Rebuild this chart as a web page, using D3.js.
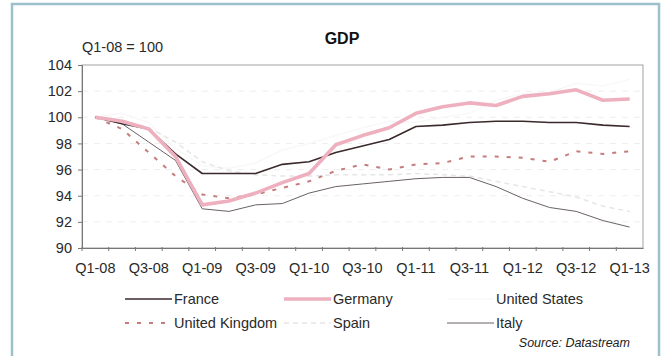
<!DOCTYPE html>
<html>
<head>
<meta charset="utf-8">
<script src="https://cdn.jsdelivr.net/npm/d3@7"></script>
<style>
  body { margin: 0; background: #fff; }
  svg { display: block; font-family: Arial, "Liberation Sans", sans-serif; }
  .tick text { font-size: 14.5px; fill: #2a2a2a; }
  .legend-label { font-size: 14.5px; fill: #2a2a2a; }
</style>
</head>
<body>
<svg id="chart" width="667" height="356"></svg>
<script>
const quarters = ['Q1-08','Q2-08','Q3-08','Q4-08','Q1-09','Q2-09','Q3-09','Q4-09','Q1-10','Q2-10','Q3-10',
  'Q4-10','Q1-11','Q2-11','Q3-11','Q4-11','Q1-12','Q2-12','Q3-12','Q4-12','Q1-13'];
const tickLabels = ['Q1-08','Q3-08','Q1-09','Q3-09','Q1-10','Q3-10','Q1-11','Q3-11','Q1-12','Q3-12','Q1-13'];
const yTicks = [90, 92, 94, 96, 98, 100, 102, 104];
const gridValues = [92, 94, 96, 98, 100, 102];

const france = [100, 99.5, 99.1, 97.2, 95.7, 95.7, 95.7, 96.4, 96.6, 97.3, 97.8, 98.3, 99.3, 99.4, 99.6, 99.7, 99.7, 99.6, 99.6, 99.4, 99.3];
const germany = [100, 99.7, 99.1, 97.0, 93.3, 93.6, 94.2, 95.0, 95.7, 97.9, 98.6, 99.2, 100.3, 100.8, 101.1, 100.9, 101.6, 101.8, 102.1, 101.3, 101.4];
const unitedStates = [100, 100.3, 99.6, 97.6, 96.3, 96.1, 96.5, 97.5, 98.0, 98.6, 99.2, 99.7, 99.6, 100.0, 100.3, 101.3, 101.8, 101.9, 102.6, 102.4, 102.9];
const unitedKingdom = [100, 99.1, 97.3, 95.5, 94.1, 93.8, 94.1, 94.6, 95.1, 95.9, 96.4, 96.0, 96.4, 96.5, 97.0, 97.0, 96.9, 96.6, 97.4, 97.2, 97.4];
const spain = [100, 99.8, 99.2, 98.1, 96.6, 95.9, 95.6, 95.5, 95.5, 95.6, 95.6, 95.6, 95.7, 95.6, 95.5, 95.1, 94.7, 94.3, 93.9, 93.2, 92.8];
const italy = [100, 99.5, 98.1, 96.7, 93.0, 92.8, 93.3, 93.4, 94.2, 94.7, 94.9, 95.1, 95.3, 95.4, 95.4, 94.7, 93.8, 93.1, 92.8, 92.1, 91.6];

const series = [
  { name: 'France', values: france, color: '#3b2a2c', width: 1.6, dash: null, lx: 125, ly: 299 },
  { name: 'Germany', values: germany, color: '#eeb0bf', width: 3.6, dash: null, lx: 284, ly: 299 },
  { name: 'United States', values: unitedStates, color: '#f8f8f8', width: 1.5, dash: null, lx: 447, ly: 299 },
  { name: 'United Kingdom', values: unitedKingdom, color: '#c47c7c', width: 2, dash: '4,8', lx: 125, ly: 323 },
  { name: 'Spain', values: spain, color: '#e6e6e6', width: 1.5, dash: '5,4', lx: 284, ly: 323 },
  { name: 'Italy', values: italy, color: '#6a6264', width: 1, dash: null, lx: 447, ly: 323 }
];

const svg = d3.select('#chart');

// outer frame
svg.append('rect')
  .attr('x', 12).attr('y', 4)
  .attr('width', 647).attr('height', 362)
  .attr('fill', 'none')
  .attr('stroke', '#9cc1cd')
  .attr('stroke-width', 2.5);

const pLeft = 82, pRight = 643, pTop = 65, pBottom = 248;

const x = d3.scaleBand().domain(quarters).range([pLeft, pRight]).padding(0);
const y = d3.scaleLinear().domain([90, 104]).range([pBottom, pTop]);
const cx = q => x(q) + x.bandwidth() / 2;

// faint grid
svg.append('g')
  .selectAll('line')
  .data(gridValues)
  .join('line')
  .attr('x1', pLeft).attr('x2', pRight)
  .attr('y1', d => y(d)).attr('y2', d => y(d))
  .attr('stroke', '#eeeeee')
  .attr('stroke-dasharray', '6,6');

// plot box
svg.append('rect')
  .attr('x', pLeft).attr('y', pTop)
  .attr('width', pRight - pLeft).attr('height', pBottom - pTop)
  .attr('fill', 'none')
  .attr('stroke', '#8a8a8a')
  .attr('stroke-width', 0.8);

// y axis
const yAxis = svg.append('g')
  .attr('transform', `translate(${pLeft},0)`)
  .call(d3.axisLeft(y).tickValues(yTicks).tickSize(4).tickPadding(6));
yAxis.select('.domain').attr('stroke', '#777');
yAxis.selectAll('.tick line').attr('stroke', '#777');

// x axis labels
const xAxis = svg.append('g')
  .attr('transform', `translate(0,${pBottom})`)
  .call(d3.axisBottom(x).tickValues(tickLabels).tickSize(0).tickPadding(15));
xAxis.select('.domain').attr('stroke', '#777');

// x boundary ticks
svg.append('g')
  .selectAll('line')
  .data(quarters)
  .join('line')
  .attr('x1', d => x(d)).attr('x2', d => x(d))
  .attr('y1', pBottom - 1).attr('y2', pBottom + 3)
  .attr('stroke', '#777');

// lines
const line = d3.line()
  .x((d, i) => cx(quarters[i]))
  .y(d => y(d));

const drawOrder = ['United States', 'Spain', 'Italy', 'United Kingdom', 'France', 'Germany'];
drawOrder.forEach((n) => {
  const s = series.find(d => d.name === n);
  svg.append('path')
    .datum(s.values)
    .attr('d', line)
    .attr('fill', 'none')
    .attr('stroke', s.color)
    .attr('stroke-width', s.width)
    .attr('stroke-dasharray', s.dash)
    .attr('stroke-linejoin', 'round');
});

// legend
const lg = svg.append('g');
series.forEach((s) => {
  lg.append('line')
    .attr('x1', s.lx).attr('x2', s.lx + 47)
    .attr('y1', s.ly).attr('y2', s.ly)
    .attr('stroke', s.color)
    .attr('stroke-width', s.width)
    .attr('stroke-dasharray', s.dash);
  lg.append('text')
    .attr('class', 'legend-label')
    .attr('x', s.lx + 49)
    .attr('y', s.ly + 5)
    .text(s.name);
});

// titles
svg.append('text')
  .attr('x', 342).attr('y', 44)
  .attr('text-anchor', 'middle')
  .attr('font-size', 16).attr('font-weight', 'bold')
  .attr('fill', '#111')
  .text('GDP');

svg.append('text')
  .attr('x', 82).attr('y', 52)
  .attr('font-size', 14.5)
  .attr('fill', '#2a2a2a')
  .text('Q1-08 = 100');

svg.append('text')
  .attr('x', 630).attr('y', 347)
  .attr('text-anchor', 'end')
  .attr('font-size', 12.5).attr('font-style', 'italic')
  .attr('fill', '#222')
  .text('Source: Datastream');
</script>
</body>
</html>
